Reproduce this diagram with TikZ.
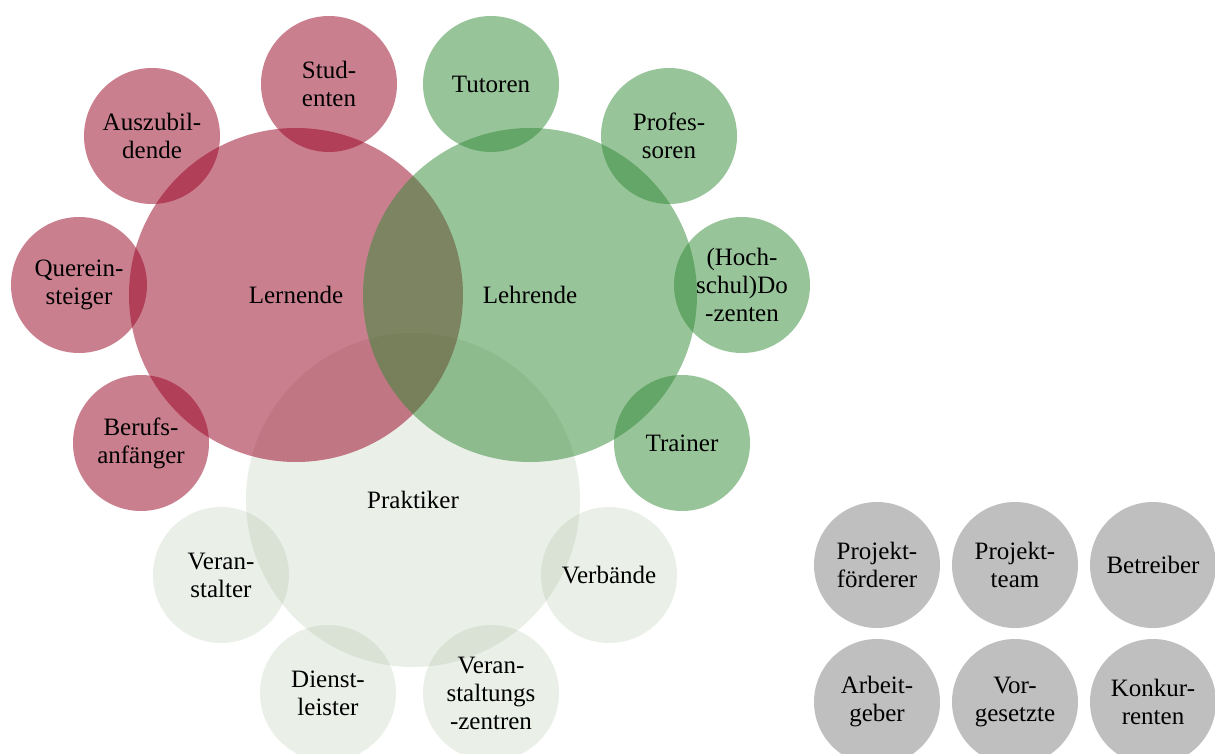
\documentclass[tikz,border=0pt]{standalone}
\usepackage{fontspec}
\setmainfont{Liberation Serif}
\definecolor{redbase}{RGB}{150,0,32}
\definecolor{greenbase}{RGB}{49,137,53}
\definecolor{palebase}{RGB}{170,190,160}
\definecolor{grayc}{RGB}{191,191,191}
\begin{document}
\begin{tikzpicture}[x=1pt,y=-1pt,
  every node/.style={circle,inner sep=0pt,align=center,font=\fontsize{25}{28}\selectfont,text=black,text opacity=1},
  bigc/.style={minimum size=334pt},
  smallc/.style={minimum size=136pt},
  grayball/.style={minimum size=126pt,fill=grayc},
  redc/.style={fill=redbase,fill opacity=0.5},
  greenc/.style={fill=greenbase,fill opacity=0.5},
  palec/.style={fill=palebase,fill opacity=0.25}]
\useasboundingbox (0,0) rectangle (1215,754);
% pale group
\node[bigc,palec] (prak) at (413,500) {Praktiker};
\node[smallc,palec] (veran) at (221,575) {Veran-\\stalter};
\node[smallc,palec] (verb) at (609,575) {Verbände};
\node[smallc,palec] (dienst) at (328,693) {Dienst-\\leister};
\node[smallc,palec] (vz) at (491,693) {Veran-\\staltungs\\-zentren};
% red group
\node[bigc,redc] (lern) at (296,295) {Lernende};
\node[smallc,redc] (stud) at (329,84) {Stud-\\enten};
\node[smallc,redc] (azubi) at (152,136) {Auszubil-\\dende};
\node[smallc,redc] (quer) at (79,285) {Querein-\\steiger};
\node[smallc,redc] (beruf) at (141,443) {Berufs-\\anfänger};
% green group
\node[bigc,greenc] (lehr) at (530,295) {Lehrende};
\node[smallc,greenc] (tut) at (491,84) {Tutoren};
\node[smallc,greenc] (prof) at (669,136) {Profes-\\soren};
\node[smallc,greenc] (doz) at (742,285) {(Hoch-\\schul)Do\\-zenten};
\node[smallc,greenc] (train) at (682,443) {Trainer};
% gray group
\node[grayball] (pf) at (877,565) {Projekt-\\förderer};
\node[grayball] (pt) at (1015,565) {Projekt-\\team};
\node[grayball] (betr) at (1153,565) {Betreiber};
\node[grayball] (ag) at (877,702) {Arbeit-\\geber};
\node[grayball] (vg) at (1015,702) {Vor-\\gesetzte};
\node[grayball] (konk) at (1153,702) {Konkur-\\renten};
\end{tikzpicture}
\end{document}
